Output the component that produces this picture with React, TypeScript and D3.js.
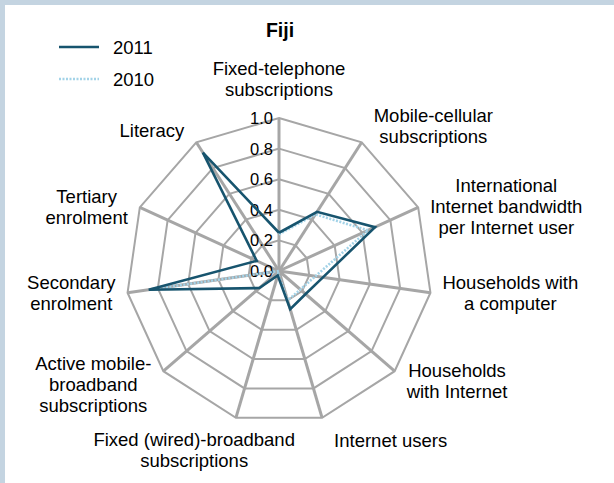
import React, { useEffect, useRef } from "react";
import * as d3 from "d3";

const categories: string[][] = [
  ["Fixed-telephone", "subscriptions"],
  ["Mobile-cellular", "subscriptions"],
  ["International", "Internet bandwidth", "per Internet user"],
  ["Households with", "a computer"],
  ["Households", "with Internet"],
  ["Internet users"],
  ["Fixed (wired)-broadband", "subscriptions"],
  ["Active mobile-", "broadband", "subscriptions"],
  ["Secondary", "enrolment"],
  ["Tertiary", "enrolment"],
  ["Literacy"],
];
const values2011: (number | null)[] = [0.25, 0.46, 0.69, 0.29, 0.23, 0.26, 0.03, 0.17, 0.86, 0.16, 0.92];
const values2010: (number | null)[] = [0.24, 0.44, 0.64, 0.24, 0.185, 0.2, 0.02, 0.0, 0.84, null, null];
const tickValues = [0, 0.2, 0.4, 0.6, 0.8, 1.0];
const seriesNames = ["2011", "2010"];

// layout: horizontal anchor override for labels Excel centres more (fraction of half width)
const labelShiftOverride: Record<number, number> = { 6: -0.37 };

const W = 614;
const H = 483;
const CX = 279;
const CY = 271;
const R = 153;
const FONT = "'Liberation Sans', Arial, sans-serif";
const FS = 18.5;
const TICK_FS = 16.5;
const LH = 21;

export default function App() {
  const ref = useRef<SVGSVGElement | null>(null);

  useEffect(() => {
    document.body.style.margin = "0";
    const svg = d3.select(ref.current!);
    svg.selectAll("*").remove();

    // frame bands
    svg.append("rect").attr("x", 0).attr("y", 0).attr("width", W).attr("height", H).attr("fill", "#ffffff");
    svg.append("rect").attr("x", 0).attr("y", 0).attr("width", W).attr("height", 5).attr("fill", "#c4d4e1");
    svg.append("rect").attr("x", 0).attr("y", 0).attr("width", 5).attr("height", H).attr("fill", "#c4d4e1");

    const n = categories.length;
    const angle = d3.scaleLinear().domain([0, n]).range([0, 2 * Math.PI]);
    const r = d3.scaleLinear().domain([0, 1]).range([0, R]);

    const g = svg.append("g").attr("transform", `translate(${CX},${CY})`);
    const idx = d3.range(n);

    // rings
    const ringLine = d3
      .lineRadial<number>()
      .angle((i) => angle(i))
      .radius(() => 0)
      .curve(d3.curveLinearClosed);
    tickValues
      .filter((t) => t > 0)
      .forEach((t) => {
        g.append("path")
          .attr("d", ringLine.radius(() => r(t))(idx) as string)
          .attr("fill", "none")
          .attr("stroke", "#a6a6a6")
          .attr("stroke-width", 2);
      });

    // spokes
    idx.forEach((i) => {
      const a = angle(i);
      g.append("line")
        .attr("x1", 0)
        .attr("y1", 0)
        .attr("x2", r(1) * Math.sin(a))
        .attr("y2", -r(1) * Math.cos(a))
        .attr("stroke", "#a6a6a6")
        .attr("stroke-width", 3);
    });

    // tick labels
    tickValues.forEach((t) => {
      g.append("text")
        .attr("x", -6)
        .attr("y", -r(t) + TICK_FS * 0.36)
        .attr("text-anchor", "end")
        .attr("font-family", FONT)
        .attr("font-size", TICK_FS)
        .attr("fill", "#000")
        .text(t.toFixed(1));
    });

    // series
    const seriesLine = d3
      .lineRadial<number>()
      .angle((i) => angle(i % n))
      .curve(d3.curveLinear);
    const drawSeries = (vals: (number | null)[], color: string, dash: string | null) => {
      const data = [...idx, 0];
      const line = seriesLine
        .defined((i) => vals[i % n] != null)
        .radius((i) => r(vals[i % n] as number));
      const p = g
        .append("path")
        .attr("d", line(data) as string)
        .attr("fill", "none")
        .attr("stroke", color)
        .attr("stroke-width", 2.6)
        .attr("stroke-linejoin", "miter");
      if (dash) p.attr("stroke-dasharray", dash);
    };
    drawSeries(values2010, "#a3d3e8", "2,1.5");
    drawSeries(values2011, "#17546e", null);

    // category labels
    categories.forEach((lines, i) => {
      const a = angle(i);
      const s = Math.sin(a);
      const c = Math.cos(a);
      const vx = CX + R * s;
      const vy = CY - R * c;
      const text = svg
        .append("text")
        .attr("text-anchor", "middle")
        .attr("font-family", FONT)
        .attr("font-size", FS)
        .attr("fill", "#000");
      const spans = lines.map((l) => text.append("tspan").text(l));
      const w = d3.max(spans, (t) => (t.node() as SVGTextContentElement).getComputedTextLength()) || 0;
      const h = lines.length * LH;
      const f = labelShiftOverride[i] ?? Math.max(-1, Math.min(1, s * 4));
      const bx = vx + f * (w / 2 + 12);
      const p = c > 0 ? 5 : 3;
      const gap = c > 0 ? 18 : 15;
      const by = vy - (gap + h / 2) * Math.sign(c) * Math.pow(Math.abs(c), p);
      spans.forEach((t, k) => {
        t.attr("x", bx).attr("y", by - h / 2 + LH * (k + 0.5) + FS * 0.36);
      });
    });

    // title
    svg
      .append("text")
      .attr("x", CX + 1)
      .attr("y", 30 + 19.5 * 0.36)
      .attr("text-anchor", "middle")
      .attr("font-family", FONT)
      .attr("font-size", 19.5)
      .attr("font-weight", "bold")
      .attr("fill", "#000")
      .text("Fiji");

    // legend
    const legendColors = ["#17546e", "#a3d3e8"];
    const legendDash = [null, "2,1.5"];
    seriesNames.forEach((name, k) => {
      const y = 47 + k * 32;
      const l = svg
        .append("line")
        .attr("x1", 59)
        .attr("x2", 99)
        .attr("y1", y)
        .attr("y2", y)
        .attr("stroke", legendColors[k])
        .attr("stroke-width", 2.6);
      if (legendDash[k]) l.attr("stroke-dasharray", legendDash[k] as string);
      svg
        .append("text")
        .attr("x", 113)
        .attr("y", y + 18.5 * 0.36)
        .attr("font-family", FONT)
        .attr("font-size", 18.5)
        .attr("fill", "#000")
        .text(name);
    });
  }, []);

  return (
    <svg
      ref={ref}
      width={W}
      height={H}
      style={{ position: "absolute", left: 0, top: 0, display: "block" }}
    />
  );
}
